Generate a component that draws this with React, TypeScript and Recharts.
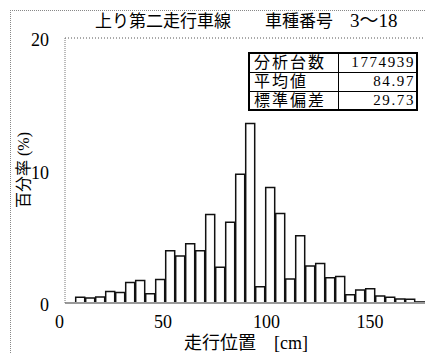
import { Bar, BarChart, ReferenceLine, XAxis, YAxis } from "recharts";

// 5 cm bins (centre of each bin), share of vehicles in percent
const binCenters = [
  10, 15, 20, 25, 30, 35, 40, 45, 50, 55, 60, 65, 70, 75, 80, 85, 90, 95,
  100, 105, 110, 115, 120, 125, 130, 135, 140, 145, 150, 155, 160, 165, 170, 175, 180,
];
const sharePercent = [
  0.43, 0.38, 0.46, 0.86, 0.79, 1.55, 1.7, 0.7, 1.77, 3.94, 3.55, 4.47, 3.94, 6.67, 2.7, 6.1, 9.72, 13.55,
  1.22, 8.72, 6.75, 1.81, 5.08, 2.8, 2.98, 1.91, 2.0, 0.63, 0.99, 1.07, 0.53, 0.43, 0.31, 0.28, 0.08,
];
const cmTicks = [0, 50, 100, 150];
const percentTicks = [0, 10, 20];

const statLabels = ["分析台数", "平均値", "標準偏差"];
const statValues = ["1774939", "84.97", "29.73"];

const data = binCenters.map((bin, i) => ({ bin, share: sharePercent[i] }));

const serif = '"Liberation Serif", "Noto Sans CJK JP", serif';

export default function App() {
  return (
    <div
      style={{
        position: "absolute",
        left: 0,
        top: 0,
        width: 425,
        height: 353,
        overflow: "hidden",
        background: "#fff",
        fontFamily: serif,
        color: "#000",
      }}
    >
      {/* outer frame */}
      <div
        style={{
          position: "absolute",
          left: 10,
          top: 10,
          width: 440,
          height: 360,
          borderLeft: "1px dotted #888",
          borderTop: "1px dotted #888",
        }}
      />
      <div style={{ position: "absolute", left: 95, top: 11, fontSize: 17, whiteSpace: "pre", lineHeight: "20px" }}>
        上り第二走行車線　　車種番号　<span style={{ fontSize: 19 }}>3～18</span>
      </div>

      <BarChart
        width={430}
        height={353}
        data={data}
        margin={{ top: 38, right: 2, bottom: 0, left: 0 }}
        style={{ position: "absolute", left: 0, top: 0 }}
      >
        <XAxis
          xAxisId="bin"
          dataKey="bin"
          type="number"
          domain={[2.15, 183.65]}
          allowDataOverflow
          height={0}
          hide
        />
        <XAxis
          xAxisId="cm"
          dataKey="bin"
          type="number"
          domain={[2.66, 178.0]}
          allowDataOverflow
          ticks={cmTicks}
          interval={0}
          height={50}
          tickLine={false}
          tickSize={0}
          tickMargin={12}
          axisLine={{ stroke: "#999", strokeWidth: 2 }}
          tick={{ fill: "#000", fontSize: 18, fontFamily: serif }}
        />
        <YAxis
          domain={[0, 20]}
          ticks={percentTicks}
          width={65}
          tickLine={false}
          tickSize={0}
          tickMargin={16}
          axisLine={{ stroke: "#777", strokeDasharray: "1 1" }}
          tick={{ fill: "#000", fontSize: 18, fontFamily: serif, dy: 2 }}
        />
        <ReferenceLine xAxisId="bin" y={20} stroke="#555" strokeDasharray="1 2" />
        <Bar
          xAxisId="bin"
          dataKey="share"
          barSize={10}
          fill="#fff"
          stroke="#111"
          strokeWidth={1.5}
          isAnimationActive={false}
        />
      </BarChart>

      <div
        style={{
          position: "absolute",
          left: 8,
          top: 170,
          fontSize: 16,
          whiteSpace: "pre",
          transform: "translate(-50%, -50%) rotate(-90deg)",
          transformOrigin: "center",
          marginLeft: 14,
        }}
      >
        百分率 (%)
      </div>
      <div style={{ position: "absolute", left: 184, top: 333, fontSize: 18, whiteSpace: "pre", lineHeight: "20px" }}>
        走行位置　[cm]
      </div>

      <table
        style={{
          position: "absolute",
          left: 248,
          top: 52,
          width: 170,
          borderCollapse: "collapse",
          border: "2px solid #000",
          background: "#fff",
        }}
      >
        <tbody>
          {statLabels.map((label, i) => (
            <tr key={label} style={{ height: 19 }}>
              <td
                style={{
                  border: "1.5px solid #000",
                  padding: "0 4px",
                  fontSize: 16,
                  lineHeight: "17px",
                  letterSpacing: 2,
                  width: 80,
                }}
              >
                {label}
              </td>
              <td
                style={{
                  border: "1.5px solid #000",
                  padding: "0 1px 0 0",
                  fontSize: 15,
                  lineHeight: "17px",
                  textAlign: "right",
                  letterSpacing: 1.6,
                }}
              >
                {statValues[i]}
              </td>
            </tr>
          ))}
        </tbody>
      </table>
    </div>
  );
}
